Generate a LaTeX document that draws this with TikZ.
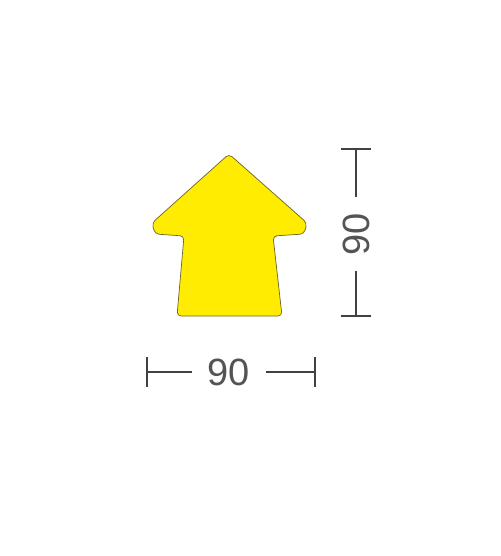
\documentclass[tikz,border=0pt]{standalone}
\usepackage{fontspec}
\setmainfont{Liberation Sans}
\usepackage{xcolor}
\usetikzlibrary{positioning}
\definecolor{signyellow}{RGB}{255,236,0}
\definecolor{signedge}{RGB}{105,100,45}
\definecolor{dimgray}{RGB}{65,65,65}

\begin{document}
\begin{tikzpicture}[x=1pt, y=-1pt,
		dimline/.style={dimgray, line width=1.3pt},
		dimtext/.style={text=dimgray!90, font=\fontsize{38}{38}\selectfont, inner sep=0pt, inner xsep=16pt}]
		\def\TICK{15}
		\useasboundingbox (0,0) rectangle (500,556);
		\fill[white] (0,0) rectangle (500,556);
		% arrow sign
		\draw[signedge, fill=signyellow, line width=0.7pt, rounded corners=4pt]
			(229,154) -- (307,223) -- (304,234) -- (273,236) -- (282,316) -- (177,316) -- (184,236) -- (155,234) -- (152,223) -- cycle;
		% width
		\node[dimtext] (wlabel) at (229,372) {90};
		\coordinate (wl) at (147,372);
		\coordinate (wr) at (315,372);
		\draw[dimline] (wl) -- (wlabel.west);
		\draw[dimline] (wr) -- (wlabel.east);
		\draw[dimline] ([yshift=-\TICK]wl) -- ([yshift=\TICK]wl);
		\draw[dimline] ([yshift=-\TICK]wr) -- ([yshift=\TICK]wr);
		% height
		\node[dimtext, rotate=90] (hlabel) at (356,234) {90};
		\coordinate (ht) at (356,149);
		\coordinate (hb) at (356,316);
		\draw[dimline] (ht) -- (hlabel.east);
		\draw[dimline] (hb) -- (hlabel.west);
		\draw[dimline] ([xshift=-\TICK]ht) -- ([xshift=\TICK]ht);
		\draw[dimline] ([xshift=-\TICK]hb) -- ([xshift=\TICK]hb);
	\end{tikzpicture}
\end{document}
